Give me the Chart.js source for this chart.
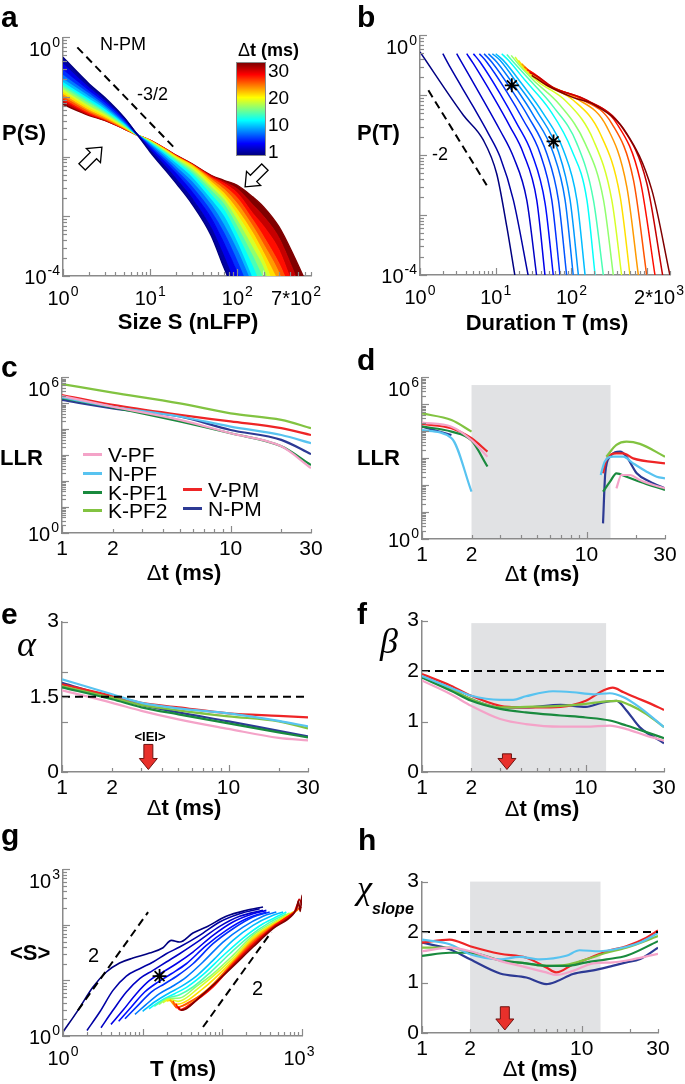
<!DOCTYPE html>
<html lang="en">
<head>
<meta charset="UTF-8">
<title>Avalanche statistics vs bin width</title>
<script src="https://cdn.jsdelivr.net/npm/chart.js@4.4.1/dist/chart.umd.min.js"></script>
<style>
  html, body { margin:0; padding:0; background:#fff; width:685px; height:1084px; overflow:hidden; }
  body { position:relative; font-family:"Liberation Sans", Arial, sans-serif; color:#000; }
  canvas { position:absolute; }
  .t { position:absolute; white-space:nowrap; }
  .cbar { position:absolute; left:236px; top:62px; width:30px; height:94px; border:1px solid #8a8a8a; box-sizing:border-box; }
  .leg { position:absolute; height:3px; width:19px; }
</style>
</head>
<body>
<script>
// ---------- data ----------

// a: size distributions P(S), one curve per bin width
const dtA = [1, 2, 4, 6, 8, 10, 12, 14, 16, 18, 20, 22, 24, 26, 28, 30];
const sizeS = [1, 2, 3, 5, 7, 10, 15, 20, 30, 50, 70, 100, 150, 200, 300, 450, 700];
const probS = [
  [0.463, 0.166, 0.0993, 0.046, 0.0242, 0.012, 0.00591, 0.00354, 0.00164, 0.00048, 0.00014, 0.00004],
  [0.382, 0.150, 0.092, 0.0449, 0.0242, 0.0128, 0.00672, 0.00413, 0.00199, 0.00063, 0.00021, 0.000058],
  [0.296, 0.132, 0.0841, 0.0427, 0.0242, 0.014, 0.00784, 0.00507, 0.00256, 0.00092, 0.00035, 0.00011, 0.000021],
  [0.244, 0.119, 0.0769, 0.0405, 0.0242, 0.0149, 0.00868, 0.00575, 0.00311, 0.00119, 0.00052, 0.00017, 0.00004],
  [0.209, 0.107, 0.0711, 0.0385, 0.0239, 0.0159, 0.00962, 0.00655, 0.00377, 0.00154, 0.00071, 0.00026, 0.000066],
  [0.184, 0.0968, 0.0659, 0.037, 0.0239, 0.0165, 0.0105, 0.00744, 0.00446, 0.00186, 0.00098, 0.00035, 0.000086, 0.00003],
  [0.166, 0.0885, 0.061, 0.0356, 0.0236, 0.0169, 0.0111, 0.00804, 0.00507, 0.00226, 0.00127, 0.00048, 0.00014, 0.000051],
  [0.152, 0.081, 0.0573, 0.0343, 0.0236, 0.0174, 0.0117, 0.00857, 0.00561, 0.00267, 0.00158, 0.00065, 0.00021, 0.000086],
  [0.139, 0.074, 0.0537, 0.033, 0.0236, 0.0178, 0.0121, 0.00902, 0.00614, 0.00303, 0.00186, 0.00083, 0.00029, 0.00013, 0.000021],
  [0.127, 0.0676, 0.0503, 0.0321, 0.0236, 0.0183, 0.0126, 0.0095, 0.00664, 0.0034, 0.00212, 0.00104, 0.0004, 0.00018, 0.00004],
  [0.116, 0.0626, 0.0472, 0.0313, 0.0233, 0.0185, 0.0129, 0.00987, 0.00708, 0.00377, 0.00241, 0.00127, 0.00052, 0.00024, 0.000075],
  [0.106, 0.0587, 0.0449, 0.0305, 0.0233, 0.0185, 0.0131, 0.01, 0.00726, 0.00413, 0.00281, 0.0016, 0.00067, 0.00033, 0.00011, 0.000021],
  [0.0968, 0.0551, 0.0432, 0.0301, 0.0233, 0.0188, 0.0133, 0.0101, 0.00735, 0.0044, 0.00319, 0.00199, 0.00086, 0.00045, 0.00016, 0.00004],
  [0.0897, 0.0523, 0.0421, 0.0298, 0.0233, 0.0188, 0.0134, 0.0103, 0.00744, 0.00457, 0.00354, 0.00241, 0.00111, 0.00067, 0.00027, 0.000058],
  [0.082, 0.0503, 0.041, 0.0294, 0.0233, 0.0188, 0.0134, 0.0104, 0.00754, 0.00475, 0.00377, 0.00284, 0.00154, 0.00098, 0.00043, 0.00011, 0.000021],
  [0.075, 0.0491, 0.0405, 0.0294, 0.0233, 0.0188, 0.0136, 0.0105, 0.00764, 0.00488, 0.00402, 0.00332, 0.00212, 0.00144, 0.00067, 0.00021, 0.000051]
];
const guideA = [[1.46, 0.68], [19.1, 0.0139]];           // slope -3/2

// b: duration distributions P(T)
const dtB = [1, 2, 3, 4, 5, 6, 7, 8, 9, 10, 12, 14, 16, 18, 20, 22, 24, 26, 28, 30];
const durT = [
  [1, 3.74, 6.87, 10.3, 14, 18],
  [2, 2.49, 5.07, 8.0, 11.4, 17.1, 27],
  [3.05, 3.74, 6.87, 11.4, 17.1, 25.7, 34.8],
  [4.14, 5.07, 9.31, 15.5, 23.2, 34.8, 44.9],
  [5.07, 6.21, 11.4, 19, 29.9, 44.9, 57.8],
  [6.08, 7.6, 14, 23.2, 38.5, 55, 70.8],
  [7.01, 8.85, 16.3, 27, 47.2, 67.3, 86.7],
  [8.0, 10.3, 18, 31.5, 57.8, 82.4, 106],
  [9.04, 11.4, 20, 36.6, 67.3, 96, 124],
  [10, 12.6, 22.1, 42.6, 78.4, 118, 152],
  [12, 14.7, 24.4, 52.2, 101, 160, 206],
  [14, 17.1, 27, 57.8, 118, 195, 265],
  [16, 20, 31.5, 70.8, 152, 265, 359],
  [18, 22.1, 36.6, 86.7, 195, 341, 462],
  [20, 24.4, 42.6, 106, 239, 440, 596],
  [22.1, 27, 47.2, 118, 293, 538, 768],
  [23.9, 29.9, 49.7, 130, 341, 659, 990],
  [25.9, 33.1, 52.2, 144, 397, 807, 1276],
  [27.9, 36.6, 57.8, 160, 462, 990, 1610],
  [29.9, 47.2, 106, 195, 538, 1153, 2014]
];
const durP = [
  [0.528, 0.0464, 0.0178, 0.0049, 0.00064, 0.000094],
  [0.495, 0.297, 0.064, 0.023, 0.0094, 0.00178, 0.000094],
  [0.495, 0.316, 0.0826, 0.0261, 0.0094, 0.00178, 0.000094],
  [0.495, 0.337, 0.094, 0.0297, 0.0107, 0.00178, 0.000094],
  [0.495, 0.36, 0.107, 0.0337, 0.0107, 0.00156, 0.000094],
  [0.495, 0.36, 0.114, 0.0383, 0.0107, 0.00178, 0.000094],
  [0.495, 0.36, 0.121, 0.0436, 0.0107, 0.00178, 0.000094],
  [0.495, 0.36, 0.138, 0.0464, 0.0107, 0.00178, 0.000094],
  [0.495, 0.383, 0.147, 0.0495, 0.0114, 0.00178, 0.000094],
  [0.495, 0.383, 0.156, 0.0495, 0.0121, 0.00178, 0.000094],
  [0.495, 0.383, 0.178, 0.0562, 0.0121, 0.00178, 0.000094],
  [0.482, 0.36, 0.19, 0.064, 0.0156, 0.00178, 0.000094],
  [0.464, 0.329, 0.178, 0.0681, 0.0156, 0.00178, 0.000094],
  [0.435, 0.304, 0.167, 0.0774, 0.0178, 0.00178, 0.000094],
  [0.383, 0.278, 0.156, 0.0826, 0.023, 0.00202, 0.000094],
  [0.337, 0.261, 0.153, 0.088, 0.0297, 0.00297, 0.000094],
  [0.297, 0.242, 0.147, 0.088, 0.0337, 0.00383, 0.000094],
  [0.268, 0.224, 0.141, 0.0868, 0.0337, 0.00383, 0.000094],
  [0.242, 0.202, 0.134, 0.0826, 0.0297, 0.00337, 0.000094],
  [0.216, 0.147, 0.0914, 0.0708, 0.023, 0.00261, 0.000094]
];
const guideB = [[1.29, 0.121], [7.6, 0.00316]];          // slope -2
const starsB = [[16.3, 0.147], [58, 0.017]];

// g: mean size vs duration
const dtG = [1, 2, 3, 4, 5, 6, 8, 10, 12, 14, 16, 18, 20, 22, 24, 26, 28, 30];
const gT = [
  [1, 1.54, 2.38, 3.5, 5.14, 7.56, 12.2, 18, 22.9, 29.1, 42.8, 63, 112, 200, 324],
  [2, 2.89, 4.24, 6.24, 9.17, 13.5, 19.8, 29.1, 51.9, 92.6, 165, 294],
  [3.0, 4.24, 6.24, 9.17, 13.5, 19.8, 29.1, 51.9, 92.6, 165, 324],
  [4.0, 5.66, 8.33, 12.2, 18, 26.5, 42.8, 76.4, 136, 243, 357],
  [5.0, 7.2, 10.6, 15.6, 22.9, 35.3, 63, 112, 200, 357],
  [6.0, 8.74, 12.8, 18.9, 27.8, 42.8, 76.4, 136, 243, 393],
  [8.0, 11.1, 16.3, 24.0, 35.3, 57.2, 102, 182, 324, 476],
  [10, 14.1, 20.8, 30.6, 47.2, 76.4, 136, 243, 433, 578],
  [12, 17.2, 25.2, 37.1, 57.2, 102, 182, 324, 525, 636],
  [14, 19.8, 29.1, 42.8, 69.3, 124, 220, 393, 636],
  [16, 20.8, 29.1, 47.2, 76.4, 136, 243, 433, 700],
  [18, 21.4, 27.8, 51.9, 136, 243, 476, 771],
  [20, 22.2, 26.5, 57.2, 136, 243, 433, 849],
  [22, 23.6, 26.5, 63, 136, 243, 433, 578, 891],
  [24, 26.5, 35.3, 69.3, 136, 243, 433, 636, 935],
  [26, 29.1, 38.9, 76.4, 136, 243, 433, 700, 800, 880, 981],
  [28, 30.6, 42.8, 76.4, 136, 243, 433, 771, 860, 920, 1009],
  [30, 35.3, 51.9, 84.1, 136, 243, 433, 771, 850, 900, 950, 1000, 1030]
];
const gS = [
  [1.18, 2.9, 7.62, 14.2, 20.6, 25.3, 31.2, 38.9, 52.7, 49.2, 71.4, 91.6, 143, 183, 210],
  [1.26, 2.7, 6.63, 12.0, 16.3, 21.5, 30.3, 40.0, 64.9, 113, 159, 196],
  [1.41, 2.9, 6.19, 10.8, 15.2, 21.5, 30.3, 52.7, 94.2, 143, 183],
  [1.62, 2.9, 5.78, 10.0, 14.2, 20.0, 32.5, 64.9, 113, 159, 183],
  [1.84, 3.33, 6.19, 9.37, 13.2, 20.0, 42.8, 79.8, 129, 171],
  [2.05, 3.56, 6.19, 8.74, 12.4, 20.0, 45.9, 85.5, 139, 171],
  [2.45, 3.72, 5.78, 7.94, 11.5, 21.5, 49.2, 91.6, 143, 171],
  [2.78, 4.09, 5.78, 7.83, 12.0, 23.0, 52.7, 98.2, 149, 171],
  [3.1, 4.38, 5.78, 7.83, 12.7, 27.9, 58.1, 105, 149, 171],
  [3.42, 4.7, 5.54, 7.62, 13.6, 30.3, 63.1, 111, 159],
  [3.72, 4.7, 4.83, 7.83, 13.2, 28.3, 64.9, 111, 164],
  [3.98, 4.57, 4.21, 7.62, 25.3, 60.5, 113, 171],
  [4.27, 4.38, 3.72, 7.11, 23.0, 56.5, 102, 183],
  [4.5, 3.93, 3.33, 6.63, 21.5, 52.7, 98.2, 121, 188],
  [4.27, 3.24, 3.82, 7.11, 20.6, 49.2, 94.2, 135, 204],
  [3.82, 2.98, 3.66, 7.62, 19.5, 45.9, 91.6, 149, 170, 230, 200],
  [3.33, 2.9, 3.93, 8.16, 18.7, 42.8, 89.1, 159, 200, 290, 225],
  [2.9, 3.1, 5.03, 9.37, 17.9, 40.0, 85.5, 155, 195, 270, 175, 340, 240]
];
const guideG1 = [[1.54, 2.9], [11.7, 170]];
const guideG2 = [[57.2, 1.45], [412, 74.5]];
const starG = [[16.3, 12.0]];

// c: LLR vs bin width
const dtC = [1, 2, 5, 10, 20, 30];
const llrC_VPF  = [1.9e5, 7.4e4, 2.3e4, 7.0e3, 2.2e3, 3.2e2];
const llrC_NPF  = [1.7e5, 7.4e4, 3.1e4, 1.27e4, 6.0e3, 2.9e3];
const llrC_KPF1 = [1.6e5, 7.0e4, 2.0e4, 7.0e3, 2.2e3, 4.2e2];
const llrC_KPF2 = [5.5e5, 2.6e5, 1.0e5, 4.1e4, 2.3e4, 1.1e4];
const llrC_VPM  = [2.1e5, 8.7e4, 3.6e4, 2.0e4, 1.1e4, 6.0e3];
const llrC_NPM  = [1.35e5, 6.4e4, 3.1e4, 9.4e3, 3.9e3, 1.1e3];

// d: LLR (two valid ranges, gap in between)
const llrD_VPF  = [[1, 2.1e4], [1.51, 1.48e4], [2, 4.7e3], [2.5, 1.14e3], [5, null], [15.2, 76], [16.3, 238], [18.4, 238], [21.1, 155], [25.5, 101], [30, 76]];
const llrD_NPF  = [[1, 1.1e4], [1.51, 5.6e3], [2, 57], [5, null], [12.2, 238], [12.9, 743], [14.5, 1140], [16.7, 1140], [19.2, 645], [23.2, 316], [26.7, 206], [30, 179]];
const llrD_KPF1 = [[1, 1.48e4], [1.51, 9.7e3], [2, 4.5e3], [2.5, 490], [5, null], [12.6, 57], [13.9, 134], [15.2, 274], [17.5, 206], [21.1, 134], [30, 66]];
const llrD_KPF2 = [[1, 4.6e4], [1.51, 2.6e4], [2, 9.7e3], [5, null], [13.2, 1140], [15.2, 3100], [17.5, 4100], [21.1, 3400], [30, 1140]];
const llrD_VPM  = [[1, 1.86e4], [1.51, 1.29e4], [2, 5.5e3], [2.5, 1.75e3], [5, null], [12.6, 274], [13.2, 857], [15.2, 1520], [16.7, 1520], [19.2, 988], [30, 645]];
const llrD_NPM  = [[1, 1.48e4], [1.51, 7.3e3], [5, null], [12.6, 3.8], [13.0, 274], [13.9, 1140], [16, 1750], [17.5, 1140], [20.2, 274], [24.3, 134], [30, 76]];

// e: alpha
const dtE = [1, 2, 3, 5, 10, 20, 30];
const alphaVPF  = [1.63, 1.38, 1.22, 1.05, 0.86, 0.68, 0.63];
const alphaNPF  = [1.85, 1.55, 1.38, 1.27, 1.17, 1.02, 0.91];
const alphaKPF1 = [1.69, 1.45, 1.29, 1.15, 0.97, 0.79, 0.69];
const alphaKPF2 = [1.71, 1.48, 1.34, 1.23, 1.11, 1.01, 0.87];
const alphaVPM  = [1.75, 1.52, 1.38, 1.29, 1.17, 1.12, 1.09];
const alphaNPM  = [1.78, 1.48, 1.34, 1.19, 1.01, 0.82, 0.71];

// f: beta
const betaVPF  = [[1, 1.81], [1.5, 1.54], [2, 1.31], [3, 1.05], [4.3, 0.95], [7, 0.9], [10, 0.9], [14, 0.92], [17.7, 0.85], [23.4, 0.72], [30, 0.62]];
const betaNPF  = [[1, 1.9], [1.5, 1.67], [2, 1.51], [3, 1.43], [3.6, 1.43], [4.3, 1.5], [6.3, 1.6], [8.35, 1.58], [11.1, 1.54], [14, 1.56], [17, 1.48], [21.3, 1.28], [30, 0.89]];
const betaKPF1 = [[1, 1.87], [1.5, 1.61], [2, 1.41], [3, 1.25], [4.3, 1.18], [7, 1.12], [10, 1.08], [14, 1.02], [17.7, 0.92], [23.4, 0.79], [30, 0.67]];
const betaKPF2 = [[1, 1.88], [1.5, 1.64], [2, 1.44], [3, 1.28], [4.3, 1.29], [7, 1.31], [10, 1.35], [13.3, 1.4], [15.4, 1.41], [18.5, 1.33], [23.4, 1.15], [30, 0.89]];
const betaVPM  = [[1, 1.94], [1.5, 1.71], [2, 1.51], [3, 1.31], [4, 1.28], [5, 1.28], [7, 1.29], [10, 1.41], [12.7, 1.61], [14.6, 1.67], [17, 1.58], [20, 1.48], [25, 1.35], [30, 1.23]];
const betaNPM  = [[1, 1.88], [1.5, 1.64], [2, 1.44], [3, 1.28], [4.3, 1.28], [7, 1.33], [10, 1.29], [12.7, 1.38], [15.4, 1.41], [17.7, 1.22], [21.3, 0.89], [30, 0.57]];

// h: chi slope
const chiVPF  = [[1, 1.62], [1.49, 1.69], [2, 1.62], [3.08, 1.43], [4.5, 1.3], [6, 1.2], [6.93, 1.15], [8.81, 1.23], [11.8, 1.38], [15.7, 1.4], [20.9, 1.46], [30, 1.57]];
const chiNPF  = [[1, 1.85], [1.49, 1.76], [2, 1.56], [3.08, 1.46], [4.08, 1.51], [5.45, 1.46], [8, 1.53], [9.7, 1.64], [12.9, 1.62], [17.3, 1.68], [23, 1.79], [30, 1.98]];
const chiKPF1 = [[1, 1.53], [1.49, 1.59], [2, 1.59], [3.08, 1.44], [4.5, 1.38], [6, 1.33], [8, 1.33], [10.7, 1.4], [14.3, 1.46], [19, 1.53], [30, 1.82]];
const chiKPF2 = [[1, 1.69], [1.49, 1.69], [2, 1.59], [3.08, 1.44], [4.5, 1.38], [6, 1.33], [8, 1.35], [10.7, 1.46], [14.3, 1.59], [19, 1.69], [30, 1.92]];
const chiVPM  = [[1, 1.79], [1.49, 1.85], [2, 1.72], [3.08, 1.57], [4.5, 1.49], [6, 1.3], [6.93, 1.2], [8.81, 1.36], [10.7, 1.46], [14.3, 1.62], [19, 1.72], [25.4, 1.89], [30, 2.03]];
const chiNPM  = [[1, 1.79], [1.49, 1.66], [2, 1.46], [3.08, 1.18], [4.5, 1.1], [6, 0.97], [6.93, 1.02], [8.81, 1.17], [11.8, 1.24], [14.3, 1.3], [19, 1.4], [23, 1.46], [30, 1.69]];

const ieiMs = 3.3;           // mean inter-event interval (red arrows)
const seriesNames = ['V-PF', 'N-PF', 'K-PF1', 'K-PF2', 'V-PM', 'N-PM'];

// ---------- styling / helpers ----------
const SCOL = ['#f4a3c8', '#58c3f0', '#198a3e', '#82c341', '#ee2526', '#2d3a94'];
const AX = '#8a8a8a';
const FONT = '"Liberation Sans", Arial, sans-serif';

function jet(t) {
  const c = v => Math.round(255 * Math.max(0, Math.min(1, v)));
  return 'rgb(' + c(1.5 - Math.abs(4 * t - 3)) + ',' + c(1.5 - Math.abs(4 * t - 2)) + ',' + c(1.5 - Math.abs(4 * t - 1)) + ')';
}
const zip = (xs, ys) => ys.map((y, i) => ({ x: xs[i], y }));
const pairs = arr => arr.map(p => ({ x: p[0], y: p[1] }));

function lineDs(points, color, extra) {
  return Object.assign({ data: points, borderColor: color, backgroundColor: color, borderWidth: 2,
    pointRadius: 0, cubicInterpolationMode: 'monotone', fill: false }, extra || {});
}
function dashed(points) {
  return lineDs(pairs(points), '#000', { borderDash: [8, 5], borderWidth: 2, cubicInterpolationMode: 'default', tension: 0, order: -10 });
}
function stars(points) {
  return { data: pairs(points), showLine: false, pointStyle: 'star', pointRadius: 7, borderColor: '#000', pointBorderWidth: 1.8, order: -11 };
}

const listLabel = show => v => show.includes(v) ? String(v) : '';
const blank = () => '';

function logTicks(s) {
  const out = [];
  for (let e = Math.floor(Math.log10(s.min)); e <= Math.ceil(Math.log10(s.max)); e++) {
    for (let m = 1; m <= 9; m++) {
      const v = m * Math.pow(10, e);
      if (v >= s.min * 0.999 && v <= s.max * 1.001) out.push({ value: v });
    }
  }
  s.ticks = out;
}

function axis(type, min, max, size, pad, cb) {
  const a = { type, min, max, grid: { display: false, drawTicks: false },
    border: { display: true, color: AX, width: 1.5 },
    ticks: { autoSkip: false, maxRotation: 0, minRotation: 0, padding: pad, color: '#000',
      font: { family: FONT, size }, callback: cb } };
  if (type === 'logarithmic') a.afterBuildTicks = logTicks;
  return a;
}

// ticks point inwards, like the original figure
const inTicks = {
  id: 'inTicks',
  afterDraw(chart) {
    const { ctx, chartArea: a } = chart;
    const len = (s, v) => {
      if (s.type !== 'logarithmic') return 6;
      const e = Math.log10(v);
      return Math.abs(e - Math.round(e)) < 1e-6 ? 7 : 4;
    };
    ctx.save();
    ctx.strokeStyle = AX; ctx.lineWidth = 1.2;
    const xs = chart.scales.x, ys = chart.scales.y;
    xs.ticks.forEach(t => {
      const p = Math.round(xs.getPixelForValue(t.value)) + 0.5;
      ctx.beginPath(); ctx.moveTo(p, a.bottom); ctx.lineTo(p, a.bottom - len(xs, t.value)); ctx.stroke();
    });
    ys.ticks.forEach(t => {
      const p = Math.round(ys.getPixelForValue(t.value)) + 0.5;
      ctx.beginPath(); ctx.moveTo(a.left, p); ctx.lineTo(a.left + len(ys, t.value), p); ctx.stroke();
    });
    ctx.restore();
  }
};

// power-of-ten tick labels with a real superscript, placed on the scale's pixels
function powLabels(xSpec, ySpec) {
  function draw(ctx, base, exp, x, y, align) {
    ctx.font = '20px ' + FONT; const w1 = ctx.measureText(base).width;
    ctx.font = '14px ' + FONT; const w2 = ctx.measureText(exp).width;
    const W = w1 + 1 + w2;
    const x0 = align === 'right' ? x - W : x - W / 2;
    ctx.fillStyle = '#000'; ctx.textAlign = 'left'; ctx.textBaseline = 'alphabetic';
    ctx.font = '20px ' + FONT; ctx.fillText(base, x0, y);
    ctx.font = '14px ' + FONT; ctx.fillText(exp, x0 + w1 + 1, y - 9);
  }
  return { id: 'powLabels', afterDraw(chart) {
    const { ctx, chartArea: a, scales: { x, y } } = chart;
    ctx.save();
    if (xSpec) xSpec.forEach(l => draw(ctx, l[1], l[2], x.getPixelForValue(l[0]) + (l[3] || 0), a.bottom + 29, 'center'));
    if (ySpec) ySpec.forEach(l => {
      const py = y.getPixelForValue(l[0]);
      draw(ctx, l[1], l[2], a.left - 3, Math.max(py + 8, a.top + 19), 'right');
    });
    ctx.restore();
  } };
}

function shade(x0, x1, yTop) {
  return { id: 'shade', beforeDraw(chart) {
    const { ctx, chartArea: a, scales: { x, y } } = chart;
    const l = x.getPixelForValue(x0), r = x.getPixelForValue(x1), t = y.getPixelForValue(yTop);
    ctx.save(); ctx.fillStyle = '#e1e2e4'; ctx.fillRect(l, t, r - l, a.bottom - t); ctx.restore();
  } };
}

function redArrow(xv, yTop, yTip) {
  return { id: 'iei', afterDatasetsDraw(chart) {
    const { ctx, scales: { x, y } } = chart;
    const cx = x.getPixelForValue(xv), t = y.getPixelForValue(yTop), b = y.getPixelForValue(yTip);
    const sw = 4.5, hw = 9, hl = 11;
    ctx.save();
    ctx.beginPath();
    ctx.moveTo(cx - sw, t); ctx.lineTo(cx + sw, t); ctx.lineTo(cx + sw, b - hl); ctx.lineTo(cx + hw, b - hl);
    ctx.lineTo(cx, b); ctx.lineTo(cx - hw, b - hl); ctx.lineTo(cx - sw, b - hl); ctx.closePath();
    ctx.fillStyle = '#e8302b'; ctx.fill();
    ctx.strokeStyle = '#6e1412'; ctx.lineWidth = 1; ctx.stroke();
    ctx.restore();
  } };
}

function panel(box, datasets, x, y, plugins) {
  const padL = 62, padT = 14, padR = 44, padB = 42;
  const w = box.r - box.l + padL + padR, h = box.b - box.t + padT + padB;
  const cv = document.createElement('canvas');
  cv.width = w; cv.height = h;
  cv.style.left = (box.l - padL) + 'px'; cv.style.top = (box.t - padT) + 'px';
  cv.style.width = w + 'px'; cv.style.height = h + 'px';
  document.body.appendChild(cv);
  x.position = 'bottom'; y.position = 'left';
  x.afterFit = s => { s.height = padB; };
  y.afterFit = s => { s.width = padL; };
  return new Chart(cv, {
    type: 'line',
    data: { datasets },
    options: {
      responsive: false, animation: false, events: [],
      layout: { padding: { left: 0, top: padT, right: padR, bottom: 0 } },
      plugins: { legend: { display: false }, tooltip: { enabled: false } },
      scales: { x, y }
    },
    plugins: [inTicks].concat(plugins || [])
  });
}

function txt(html, x, base, size, style, center) {
  const d = document.createElement('div');
  d.className = 't';
  d.innerHTML = html;
  d.style.left = x + 'px';
  d.style.top = (base - 0.85 * size) + 'px';
  d.style.fontSize = size + 'px';
  d.style.lineHeight = size + 'px';
  if (style) d.style.cssText += style;
  if (center) d.style.transform = 'translateX(-50%)';
  document.body.appendChild(d);
}

function six(pointsList, width) {
  return pointsList.map((pts, i) => lineDs(pts, SCOL[i], { borderWidth: width || 2.2 }));
}

// ---------- plot boxes (page pixels) ----------
const BOX = {
  a: { l: 63, r: 311, t: 37, b: 276 },  b: { l: 420, r: 670, t: 35, b: 275 },
  c: { l: 62, r: 311, t: 377, b: 533 }, d: { l: 422, r: 665, t: 377, b: 539 },
  e: { l: 62, r: 308, t: 620, b: 772 }, f: { l: 422, r: 664, t: 619, b: 772 },
  g: { l: 63, r: 302, t: 869, b: 1036 }, h: { l: 422, r: 658, t: 880, b: 1033 }
};
const xDt = () => axis('logarithmic', 1, 30, 21, 4, listLabel([1, 2, 10, 30]));
const logAx = (min, max) => axis('logarithmic', min, max, 19, 3, blank);
const yProbLabels = [[1, '10', '0'], [1e-4, '10', '-4']];
const yLlrLabels = [[1e6, '10', '6'], [1, '10', '0']];

// a
const dsA = dtA.map((dt, i) => {
  const col = jet((dt - 1) / 29);
  return lineDs(zip(sizeS, probS[i]), col, { borderWidth: 1.4, fill: i ? '-1' : false });
});
dsA.push(dashed(guideA));
panel(BOX.a, dsA, logAx(1, 700), logAx(1e-4, 1),
  [powLabels([[1, '10', '0'], [10, '10', '1'], [100, '10', '2'], [700, '7*10', '2', -15]], yProbLabels)]);

// b
const dsB = dtB.map((dt, i) => lineDs(zip(durT[i], durP[i]), jet((dt - 1) / 29), { borderWidth: 1.5, order: -i }));
dsB.push(dashed(guideB), stars(starsB));
panel(BOX.b, dsB, logAx(1, 2000), logAx(1e-4, 1),
  [powLabels([[1, '10', '0'], [10, '10', '1'], [100, '10', '2'], [2000, '2*10', '3', -11]], yProbLabels)]);

// c
panel(BOX.c, six([llrC_VPF, llrC_NPF, llrC_KPF1, llrC_KPF2, llrC_VPM, llrC_NPM].map(v => zip(dtC, v))),
  xDt(), logAx(1, 1e6), [powLabels(null, yLlrLabels)]);

// d
panel(BOX.d, six([llrD_VPF, llrD_NPF, llrD_KPF1, llrD_KPF2, llrD_VPM, llrD_NPM].map(pairs)),
  xDt(), logAx(1, 1e6), [shade(2, 14, 5.2e5), powLabels(null, yLlrLabels)]);

// e
const yE = axis('linear', 0, 3, 21, 3, listLabel([0, 1.5, 3]));
yE.afterBuildTicks = s => { s.ticks = [0, 1, 1.5, 2, 3].map(v => ({ value: v })); };
const dsE = six([alphaVPF, alphaNPF, alphaKPF1, alphaKPF2, alphaVPM, alphaNPM].map(v => zip(dtE, v)));
dsE.push(dashed([[1, 1.5], [30, 1.5]]));
panel(BOX.e, dsE, xDt(), yE, [redArrow(ieiMs, 0.55, 0.05)]);

// f
const dsF = six([betaVPF, betaNPF, betaKPF1, betaKPF2, betaVPM, betaNPM].map(pairs));
dsF.push(dashed([[1, 2], [30, 2]]));
const yF = axis('linear', 0, 3, 21, 3, v => String(v));
yF.ticks.stepSize = 1;
panel(BOX.f, dsF, xDt(), yF, [shade(2, 13.3, 2.95), redArrow(ieiMs, 0.36, 0.05)]);

// g
const dsG = dtG.map((dt, i) => lineDs(zip(gT[i], gS[i]), jet((dt - 1) / 29), { borderWidth: 1.6, order: -i }));
dsG.push(dashed(guideG1), dashed(guideG2), stars(starG));
panel(BOX.g, dsG, logAx(1, 1000), logAx(1, 1000),
  [powLabels([[1, '10', '0'], [1000, '10', '3', -3]], [[1000, '10', '3'], [1, '10', '0']])]);

// h
const dsH = six([chiVPF, chiNPF, chiKPF1, chiKPF2, chiVPM, chiNPM].map(pairs));
dsH.push(dashed([[1, 2], [30, 2]]));
const yH = axis('linear', 0, 3, 21, 3, v => String(v));
yH.ticks.stepSize = 1;
panel(BOX.h, dsH, xDt(), yH, [shade(2, 13.1, 3), redArrow(ieiMs, 0.52, 0.06)]);

// ---------- text ----------
const B = 'font-weight:bold;';
const DT = '<span style="font-weight:normal">Δ</span>t (ms)';
[['a', 1, 27], ['b', 357, 27], ['c', 1, 377], ['d', 357, 370], ['e', 1, 624], ['f', 357, 624], ['g', 1, 845], ['h', 358, 850]]
  .forEach(l => txt(l[0], l[1], l[2], 30, B));

txt('P(S)', 2, 141, 22, B);
txt('P(T)', 357, 141, 22, B);
txt('Size S (nLFP)', 188, 330, 22, B, true);
txt('Duration T (ms)', 547, 331, 22, B, true);
txt('LLR', 0, 466, 22, B);
txt('LLR', 357, 466, 22, B);
txt(DT, 184, 581, 22, B, true);
txt(DT, 542, 582, 22, B, true);
txt(DT, 184, 816, 22, B, true);
txt(DT, 542, 817, 22, B, true);
txt('&lt;S&gt;', 10, 961, 22, B);
txt('T (ms)', 183, 1077, 22, B, true);
txt(DT, 540, 1077, 22, B, true);

const SERIF = 'font-family:"Liberation Serif","Times New Roman",serif;font-style:italic;';
txt('α', 17, 657, 36, SERIF);
txt('β', 380, 654, 36, SERIF);
txt('χ', 357, 900, 34, SERIF);
txt('slope', 372, 915, 16, B + 'font-style:italic;');

txt('N-PM', 100, 50, 18);
txt('-3/2', 137, 100, 18);
txt('-2', 432, 160, 18);
txt('2', 88, 962, 20);
txt('2', 252, 995, 20);
txt('&lt;IEI&gt;', 150, 741, 13, B, true);

// colour bar for bin width
const cb = document.createElement('div');
cb.className = 'cbar';
const stops = [];
for (let k = 0; k <= 8; k++) stops.push(jet(k / 8) + ' ' + (k * 12.5) + '%');
cb.style.background = 'linear-gradient(to top,' + stops.join(',') + ')';
document.body.appendChild(cb);
txt(DT, 238, 56, 18, B);
[['30', 77], ['20', 104], ['10', 131], ['1', 158]].forEach(l => txt(l[0], 268, l[1], 19));

// legend of panel c
const legPos = [[83, 454], [83, 473], [83, 492], [83, 510], [183, 489], [183, 508]];
seriesNames.forEach((n, i) => {
  const s = document.createElement('div');
  s.className = 'leg';
  s.style.left = legPos[i][0] + 'px'; s.style.top = (legPos[i][1] - 1) + 'px';
  s.style.background = SCOL[i];
  document.body.appendChild(s);
  txt(n, legPos[i][0] + 25, legPos[i][1] + 8, 21);
});

// hollow arrows of panel a
function hollowArrow(cx, cy, rot) {
  const ns = 'http://www.w3.org/2000/svg';
  const svg = document.createElementNS(ns, 'svg');
  svg.setAttribute('width', 40); svg.setAttribute('height', 40);
  svg.style.cssText = 'position:absolute;left:' + (cx - 20) + 'px;top:' + (cy - 20) + 'px;';
  const p = document.createElementNS(ns, 'polygon');
  p.setAttribute('points', '-14,-4.5 2,-4.5 2,-10 14,0 2,10 2,4.5 -14,4.5');
  p.setAttribute('transform', 'translate(20,20) rotate(' + rot + ')');
  p.setAttribute('fill', '#fff'); p.setAttribute('stroke', '#000'); p.setAttribute('stroke-width', 1.3);
  svg.appendChild(p);
  document.body.appendChild(svg);
}
hollowArrow(92, 157, -45);
hollowArrow(255, 177, 135);
</script>
</body>
</html>
